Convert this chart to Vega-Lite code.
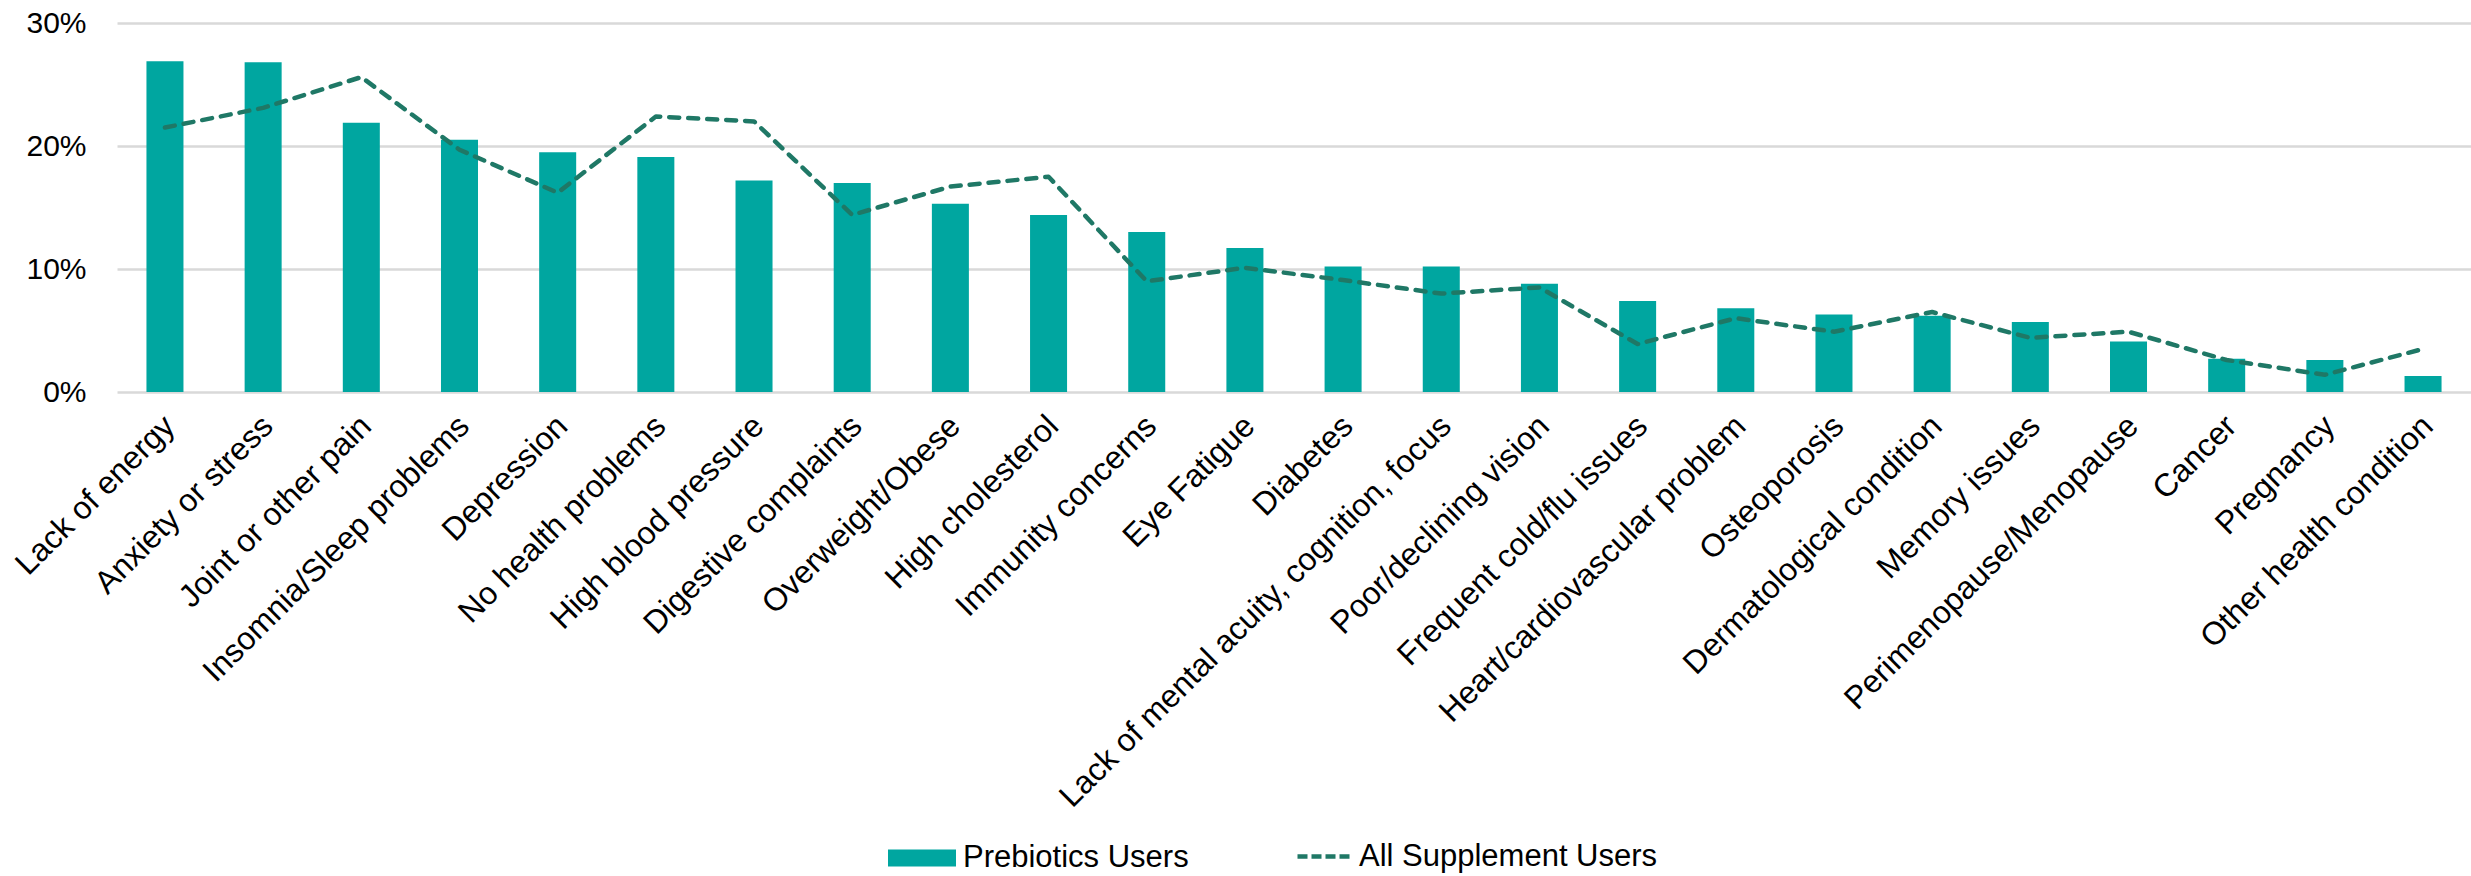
{
  "$schema": "https://vega.github.io/schema/vega-lite/v6.json",
  "width": 2354,
  "height": 369,
  "autosize": "none",
  "padding": {"left": 117, "top": 23, "right": 0, "bottom": 484},
  "background": "white",
  "config": {
    "font": "Liberation Sans",
    "view": {"stroke": null},
    "axis": {"labelFontSize": 32, "labelColor": "#000000", "labelFont": "Liberation Sans", "domain": false, "ticks": false, "title": null},
    "legend": {"labelFontSize": 31, "labelColor": "#000000", "labelFont": "Liberation Sans", "padding": 0, "labelLimit": 1000}
  },
  "data": {
    "values": [
      {"condition": "Lack of energy", "series": "Prebiotics Users", "value": 0.269},
      {"condition": "Anxiety or stress", "series": "Prebiotics Users", "value": 0.268},
      {"condition": "Joint or other pain", "series": "Prebiotics Users", "value": 0.219},
      {"condition": "Insomnia/Sleep problems", "series": "Prebiotics Users", "value": 0.205},
      {"condition": "Depression", "series": "Prebiotics Users", "value": 0.195},
      {"condition": "No health problems", "series": "Prebiotics Users", "value": 0.191},
      {"condition": "High blood pressure", "series": "Prebiotics Users", "value": 0.172},
      {"condition": "Digestive complaints", "series": "Prebiotics Users", "value": 0.170},
      {"condition": "Overweight/Obese", "series": "Prebiotics Users", "value": 0.153},
      {"condition": "High cholesterol", "series": "Prebiotics Users", "value": 0.144},
      {"condition": "Immunity concerns", "series": "Prebiotics Users", "value": 0.130},
      {"condition": "Eye Fatigue", "series": "Prebiotics Users", "value": 0.117},
      {"condition": "Diabetes", "series": "Prebiotics Users", "value": 0.102},
      {"condition": "Lack of mental acuity, cognition, focus", "series": "Prebiotics Users", "value": 0.102},
      {"condition": "Poor/declining vision", "series": "Prebiotics Users", "value": 0.088},
      {"condition": "Frequent cold/flu issues", "series": "Prebiotics Users", "value": 0.074},
      {"condition": "Heart/cardiovascular problem", "series": "Prebiotics Users", "value": 0.068},
      {"condition": "Osteoporosis", "series": "Prebiotics Users", "value": 0.063},
      {"condition": "Dermatological condition", "series": "Prebiotics Users", "value": 0.062},
      {"condition": "Memory issues", "series": "Prebiotics Users", "value": 0.057},
      {"condition": "Perimenopause/Menopause", "series": "Prebiotics Users", "value": 0.041},
      {"condition": "Cancer", "series": "Prebiotics Users", "value": 0.027},
      {"condition": "Pregnancy", "series": "Prebiotics Users", "value": 0.026},
      {"condition": "Other health condition", "series": "Prebiotics Users", "value": 0.013},
      {"condition": "Lack of energy", "series": "All Supplement Users", "value": 0.215},
      {"condition": "Anxiety or stress", "series": "All Supplement Users", "value": 0.231},
      {"condition": "Joint or other pain", "series": "All Supplement Users", "value": 0.256},
      {"condition": "Insomnia/Sleep problems", "series": "All Supplement Users", "value": 0.197},
      {"condition": "Depression", "series": "All Supplement Users", "value": 0.162},
      {"condition": "No health problems", "series": "All Supplement Users", "value": 0.224},
      {"condition": "High blood pressure", "series": "All Supplement Users", "value": 0.220},
      {"condition": "Digestive complaints", "series": "All Supplement Users", "value": 0.144},
      {"condition": "Overweight/Obese", "series": "All Supplement Users", "value": 0.167},
      {"condition": "High cholesterol", "series": "All Supplement Users", "value": 0.175},
      {"condition": "Immunity concerns", "series": "All Supplement Users", "value": 0.090},
      {"condition": "Eye Fatigue", "series": "All Supplement Users", "value": 0.101},
      {"condition": "Diabetes", "series": "All Supplement Users", "value": 0.091},
      {"condition": "Lack of mental acuity, cognition, focus", "series": "All Supplement Users", "value": 0.080},
      {"condition": "Poor/declining vision", "series": "All Supplement Users", "value": 0.085},
      {"condition": "Frequent cold/flu issues", "series": "All Supplement Users", "value": 0.039},
      {"condition": "Heart/cardiovascular problem", "series": "All Supplement Users", "value": 0.060},
      {"condition": "Osteoporosis", "series": "All Supplement Users", "value": 0.049},
      {"condition": "Dermatological condition", "series": "All Supplement Users", "value": 0.065},
      {"condition": "Memory issues", "series": "All Supplement Users", "value": 0.044},
      {"condition": "Perimenopause/Menopause", "series": "All Supplement Users", "value": 0.049},
      {"condition": "Cancer", "series": "All Supplement Users", "value": 0.026},
      {"condition": "Pregnancy", "series": "All Supplement Users", "value": 0.014},
      {"condition": "Other health condition", "series": "All Supplement Users", "value": 0.035}
    ]
  },
  "encoding": {
    "x": {
      "field": "condition",
      "type": "nominal",
      "sort": null,
      "scale": {"paddingInner": 0.623, "paddingOuter": 0.3},
      "axis": {"labelAngle": -45, "labelAlign": "right", "labelBaseline": "top", "labelPadding": 18, "labelOffset": -6, "grid": false, "labelLimit": 1000}
    }
  },
  "layer": [
    {
      "transform": [{"filter": "datum.series === 'Prebiotics Users'"}],
      "mark": {"type": "bar"},
      "encoding": {
        "y": {
          "field": "value",
          "type": "quantitative",
          "scale": {"domain": [0, 0.3]},
          "axis": {"values": [0, 0.1, 0.2, 0.3], "format": ".0%", "grid": true, "gridColor": "#D9D9D9", "gridWidth": 2.5, "labelPadding": 31, "labelFontSize": 30}
        },
        "fill": {
          "field": "series",
          "type": "nominal",
          "scale": {"domain": ["Prebiotics Users"], "range": ["#00A6A0"]},
          "legend": {
            "title": null,
            "orient": "none",
            "legendX": 771,
            "legendY": 801,
            "symbolType": "M-1,-0.25H1V0.25H-1Z",
            "symbolSize": 4624,
            "symbolStrokeWidth": 0,
            "labelOffset": 7
          }
        }
      }
    },
    {
      "transform": [{"filter": "datum.series === 'All Supplement Users'"}],
      "mark": {"type": "line", "strokeWidth": 4.5, "strokeDash": [10, 9], "strokeCap": "round", "strokeJoin": "round"},
      "encoding": {
        "y": {"field": "value", "type": "quantitative"},
        "stroke": {
          "field": "series",
          "type": "nominal",
          "scale": {"domain": ["All Supplement Users"], "range": ["#1F7866"]},
          "legend": {
            "title": null,
            "orient": "none",
            "legendX": 1178,
            "legendY": 805,
            "symbolType": "stroke",
            "symbolSize": 2704,
            "symbolStrokeWidth": 4.5,
            "symbolDash": [10, 4],
            "labelOffset": 7
          }
        }
      }
    }
  ]
}
